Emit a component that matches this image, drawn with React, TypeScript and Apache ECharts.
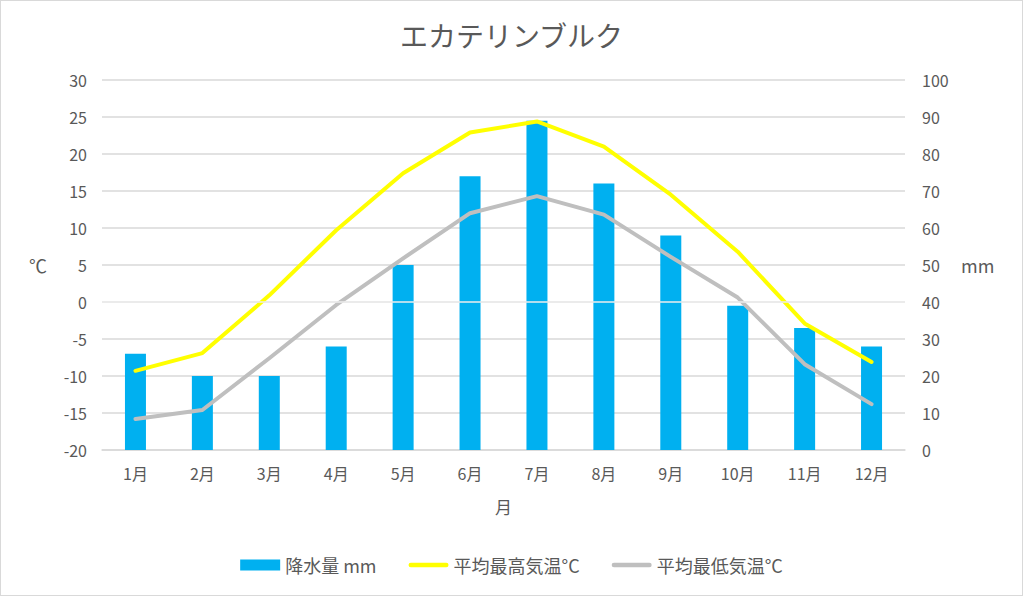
import React, { useEffect, useRef } from "react";
import * as echarts from "echarts";

const months = ["1月", "2月", "3月", "4月", "5月", "6月", "7月", "8月", "9月", "10月", "11月", "12月"];
const precipitation = [26, 20, 20, 28, 50, 74, 89, 72, 58, 39, 33, 28];
const maxTemp = [-9.3, -6.9, 0.9, 9.7, 17.4, 22.9, 24.4, 21.0, 14.5, 6.8, -2.9, -8.1];
const minTemp = [-15.8, -14.6, -7.6, -0.4, 5.9, 12.0, 14.3, 11.8, 6.1, 0.6, -8.4, -13.8];

const FONT = "'Noto Sans CJK JP', 'Noto Sans', sans-serif";
const GREY_TEXT = "#595959";
const LINE_ICON = "path://M2.5,0 L41.5,0 A2.5,2.5 0 0 1 41.5,5 L2.5,5 A2.5,2.5 0 0 1 2.5,0 Z";

export default function App() {
  const ref = useRef<HTMLDivElement>(null);
  useEffect(() => {
    if (!ref.current) return;
    const chart = echarts.init(ref.current, undefined, { renderer: "svg" });
    chart.setOption({
      animation: false,
      textStyle: { fontFamily: FONT },
      title: {
        text: "エカテリンブルク",
        left: "center",
        top: 16,
        textStyle: { fontFamily: FONT, fontSize: 28, fontWeight: "normal", color: GREY_TEXT },
      },
      grid: { left: 102, right: 118, top: 80, bottom: 146 },
      legend: {
        top: 551,
        left: "center",
        itemWidth: 40,
        itemHeight: 11,
        itemGap: 32,
        textStyle: { fontFamily: FONT, fontSize: 18, color: GREY_TEXT },
        data: [
          { name: "降水量 mm", icon: "rect" },
          { name: "平均最高気温°C", icon: LINE_ICON },
          { name: "平均最低気温°C", icon: LINE_ICON },
        ],
      },
      xAxis: {
        type: "category",
        data: months,
        name: "月",
        nameLocation: "middle",
        nameGap: 48,
        nameTextStyle: { fontFamily: FONT, fontSize: 17, color: GREY_TEXT },
        axisTick: { show: false },
        axisLine: { onZero: false, lineStyle: { color: "#d9d9d9", width: 1.5 } },
        axisLabel: { fontFamily: FONT, fontSize: 16, color: GREY_TEXT, margin: 15 },
      },
      yAxis: [
        {
          type: "value",
          min: -20,
          max: 30,
          interval: 5,
          name: "℃",
          nameLocation: "middle",
          nameRotate: 0,
          nameGap: 55,
          nameTextStyle: { fontFamily: FONT, fontSize: 18, color: GREY_TEXT },
          axisLine: { show: false },
          axisTick: { show: false },
          axisLabel: { fontFamily: FONT, fontSize: 16, color: GREY_TEXT, margin: 15 },
          splitLine: { lineStyle: { color: "#d9d9d9", width: 1.5 } },
        },
        {
          type: "value",
          min: 0,
          max: 100,
          interval: 10,
          name: "mm",
          nameLocation: "middle",
          nameRotate: 0,
          nameGap: 56,
          nameTextStyle: { fontFamily: FONT, fontSize: 18, color: GREY_TEXT },
          axisLine: { show: false },
          axisTick: { show: false },
          axisLabel: { fontFamily: FONT, fontSize: 16, color: GREY_TEXT, margin: 17 },
          splitLine: { show: false },
        },
      ],
      series: [
        {
          name: "降水量 mm",
          type: "bar",
          yAxisIndex: 1,
          data: precipitation,
          barWidth: 21,
          itemStyle: { color: "#00b0f0" },
          markLine: {
            silent: true,
            symbol: "none",
            label: { show: false },
            lineStyle: { color: "#eeeeee", width: 1.5, type: "solid" },
            data: [{ yAxis: 40 }],
          },
        },
        {
          name: "平均最高気温°C",
          type: "line",
          yAxisIndex: 0,
          data: maxTemp,
          symbol: "none",
          lineStyle: { color: "#ffff00", width: 4, cap: "round", join: "round" },
          itemStyle: { color: "#ffff00" },
        },
        {
          name: "平均最低気温°C",
          type: "line",
          yAxisIndex: 0,
          data: minTemp,
          symbol: "none",
          lineStyle: { color: "#bfbfbf", width: 4, cap: "round", join: "round" },
          itemStyle: { color: "#bfbfbf" },
        },
      ],
    });
    return () => chart.dispose();
  }, []);

  return (
    <div
      style={{
        position: "absolute",
        left: 0,
        top: 0,
        width: 1023,
        height: 596,
        boxSizing: "border-box",
        border: "1px solid #d9d9d9",
        background: "#fff",
      }}
    >
      <div ref={ref} style={{ position: "absolute", left: -1, top: -1, width: 1023, height: 596 }} />
    </div>
  );
}
